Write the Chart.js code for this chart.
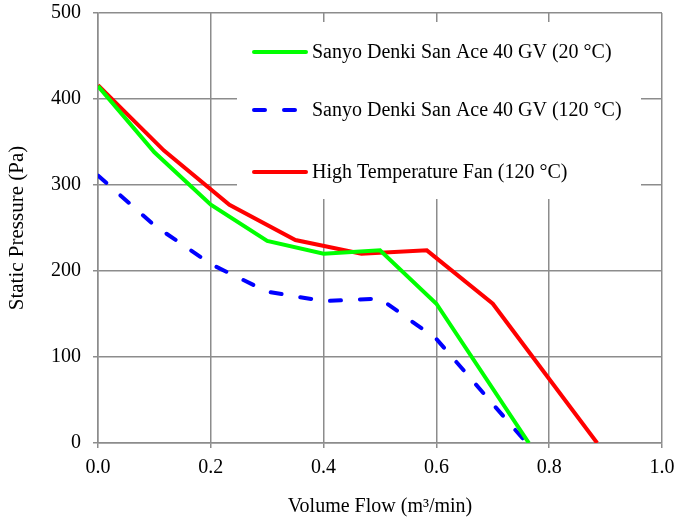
<!DOCTYPE html>
<html>
<head>
<meta charset="utf-8">
<script src="https://cdn.jsdelivr.net/npm/chart.js@4.4.1/dist/chart.umd.min.js"></script>
<style>
  html, body { margin: 0; padding: 0; background: #fff; }
  #wrap { width: 678px; height: 524px; }
</style>
</head>
<body>
<div id="wrap"><canvas id="fanChart" width="678" height="524"></canvas></div>
<script>
// values
const flowGreen = [0, 0.1, 0.2, 0.3, 0.4, 0.5, 0.6, 0.764];
const pressGreen = [415, 338, 277, 235, 220, 224, 162, 0];

const flowBlue = [0, 0.1, 0.2, 0.3, 0.4, 0.5, 0.6, 0.76];
const pressBlue = [311, 253, 208, 176, 165, 168, 121, 0];

const flowRed = [0, 0.117, 0.233, 0.35, 0.467, 0.583, 0.7, 0.885];
const pressRed = [416, 340, 277, 236, 220, 224, 162, 0];

const seriesNames = [
  "Sanyo Denki San Ace 40 GV (20 °C)",
  "Sanyo Denki San Ace 40 GV (120 °C)",
  "High Temperature Fan (120 °C)"
];
const xTicks = [0, 0.2, 0.4, 0.6, 0.8, 1.0];
const yTicks = [0, 100, 200, 300, 400, 500];

const FONT = "'Liberation Serif', 'Times New Roman', serif";
const GRID = "#8c8c8c";

function pts(xs, ys) {
  return xs.map((x, i) => ({ x: x, y: ys[i] }));
}

// legend drawn inside the plot, on a white box
const innerLegend = {
  id: "innerLegend",
  afterDraw(chart) {
    const ctx = chart.ctx;
    const area = chart.chartArea;
    const boxL = area.left + 139, boxT = area.top + 9;
    const boxR = area.right - 21, boxB = area.top + 186;
    ctx.save();
    ctx.fillStyle = "#fff";
    ctx.fillRect(boxL, boxT, boxR - boxL, boxB - boxT);
    const rows = [52, 110, 172];
    chart.data.datasets.forEach((ds, i) => {
      const y = rows[i];
      ctx.strokeStyle = ds.borderColor;
      ctx.lineWidth = 4;
      ctx.lineCap = "round";
      ctx.setLineDash(ds.borderDash || []);
      ctx.beginPath();
      ctx.moveTo(boxL + 17, y);
      ctx.lineTo(boxL + 69, y);
      ctx.stroke();
      ctx.setLineDash([]);
      ctx.fillStyle = "#000";
      ctx.font = "20px " + FONT;
      ctx.textBaseline = "middle";
      ctx.textAlign = "left";
      ctx.fillText(ds.label, boxL + 75, y + 1);
    });
    ctx.restore();
  }
};

new Chart(document.getElementById("fanChart").getContext("2d"), {
  type: "line",
  data: {
    datasets: [
      {
        label: seriesNames[0],
        data: pts(flowGreen, pressGreen),
        borderColor: "#00ff00",
        borderWidth: 4,
        pointRadius: 0,
        tension: 0,
        fill: false
      },
      {
        label: seriesNames[1],
        data: pts(flowBlue, pressBlue),
        borderColor: "#0000ff",
        borderWidth: 4,
        borderDash: [11, 19],
        borderCapStyle: "round",
        pointRadius: 0,
        tension: 0,
        fill: false
      },
      {
        label: seriesNames[2],
        data: pts(flowRed, pressRed),
        borderColor: "#ff0000",
        borderWidth: 4,
        pointRadius: 0,
        tension: 0,
        fill: false
      }
    ]
  },
  options: {
    responsive: false,
    animation: false,
    layout: { padding: { top: 13, right: 16, left: 0, bottom: 0 } },
    plugins: {
      legend: { display: false },
      tooltip: { enabled: false }
    },
    scales: {
      x: {
        type: "linear",
        min: 0,
        max: 1.0,
        afterBuildTicks: s => { s.ticks = xTicks.map(v => ({ value: v })); },
        afterFit: s => {
          s.height = 81;
          s.paddingLeft = 0;
          s.paddingRight = 0;
        },
        grid: { color: GRID, lineWidth: 1.5, tickLength: 5 },
        border: { color: GRID, width: 1.5 },
        ticks: {
          color: "#000",
          font: { family: FONT, size: 20 },
          padding: 8,
          maxRotation: 0,
          callback: v => v.toFixed(1)
        },
        title: {
          display: true,
          text: "Volume Flow (m³/min)",
          color: "#000",
          font: { family: FONT, size: 20 },
          padding: { top: 0, bottom: 5 }
        }
      },
      y: {
        type: "linear",
        min: 0,
        max: 500,
        afterBuildTicks: s => { s.ticks = yTicks.map(v => ({ value: v })); },
        afterFit: s => {
          s.width = 98;
          s.paddingTop = 0;
          s.paddingBottom = 0;
        },
        grid: { color: GRID, lineWidth: 1.5, tickLength: 5 },
        border: { color: GRID, width: 1.5 },
        ticks: {
          color: "#000",
          font: { family: FONT, size: 20 },
          padding: 12
        },
        title: {
          display: true,
          text: "Static Pressure (Pa)",
          color: "#000",
          font: { family: FONT, size: 21 },
          padding: { top: 5, bottom: 0 }
        }
      }
    }
  },
  plugins: [innerLegend]
});
</script>
</body>
</html>
